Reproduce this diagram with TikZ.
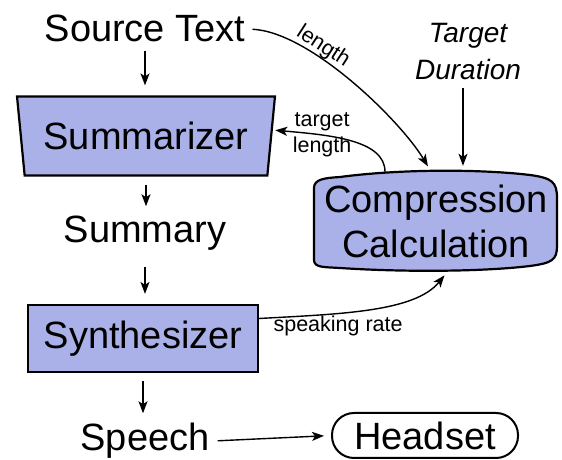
\documentclass[tikz,border=0pt]{standalone}
\usepackage{fontspec}
\setmainfont{Liberation Sans}
\usetikzlibrary{shapes.geometric, arrows.meta}
\definecolor{boxblue}{RGB}{170,176,232}

\begin{document}
\begin{tikzpicture}[x=1pt, y=1pt, >={Stealth[length=12pt, width=9pt, inset=3pt]},
    word/.style={inner sep=0pt, anchor=base, font=\fontsize{38}{45}\selectfont},
    small/.style={inner sep=1pt, font=\fontsize{21.5}{26}\selectfont},
    block/.style={draw, line width=2.2pt, fill=boxblue, inner sep=0pt, font=\fontsize{38}{45}\selectfont},
    flow/.style={->, line width=1.4pt, shorten <=8pt, shorten >=10pt},
    feed/.style={->, line width=1.4pt}]
    \useasboundingbox (0,0) rectangle (562,460);

    % Left column: text, summary, speech
    \node[word] (src) at (145,418) {Source Text};
    \node[block, trapezium, shape border rotate=180, trapezium angle=77,
        trapezium stretches=true, minimum width=258, minimum height=79] (summ) at (146,324) {Summarizer};
    \node[word] (sumy) at (145,217) {Summary};
    \node[block, minimum width=230, minimum height=67] (synth) at (143,121.5) {Synthesizer};
    \node[word] (speech) at (145,9) {Speech};
    \node[draw, line width=2pt, rounded corners=22pt, minimum width=186, minimum height=45,
        inner sep=0pt, font=\fontsize{38}{45}\selectfont] (head) at (425,24.5) {Headset};

    % Compression calculation (bulged box)
    \draw[line width=2.2pt, fill=boxblue] (314,200) -- (314,272)
        .. controls (314,281) and (325,282) .. (340,283)
        .. controls (400,291) and (480,291) .. (530,285)
        .. controls (552,282) and (557,278) .. (557,262) -- (557,214)
        .. controls (557,200) and (552,197) .. (530,194)
        .. controls (480,188) and (400,188) .. (340,192)
        .. controls (325,193) and (314,192) .. cycle;
    \node[inner sep=0pt, minimum width=242, minimum height=102, align=center,
        font=\fontsize{38}{45}\selectfont] (comp) at (436,239) {Compression\\Calculation};
    \node[inner sep=0pt, align=center, font=\fontsize{28}{37}\itshape] (tgt) at (468,408) {Target\\Duration};

    % Main chain
    \draw[flow] (src.south) -- (src.south |- summ.north);
    \draw[flow] (summ.south) -- (summ.south |- sumy.north);
    \draw[flow] ([yshift=-8pt]sumy.south) -- (sumy.south |- synth.north);
    \draw[flow] (synth.south) -- (synth.south |- speech.north);
    \draw[flow, shorten >=7pt] (speech.east) -- (head.west);

    % Inputs and outputs of the calculation
    \draw[feed, shorten <=8pt, shorten >=4pt] ([xshift=-5pt]tgt.south) -- ([xshift=27pt]comp.north);
    \draw[feed, shorten <=7pt, shorten >=4pt] (src.east) .. controls (310,428) and (400,340) .. ([xshift=-6pt]comp.north)
        node[small, sloped, above, pos=0.34] {length};
    \draw[feed, shorten >=3pt] ([xshift=-51pt, yshift=-2pt]comp.north) .. controls (385,320) and (330,325) .. ([yshift=6pt]summ.east)
        node[small, pos=0.7, align=center, inner sep=0pt] {target\\length};
    \draw[feed, shorten >=4pt] ([yshift=20pt]synth.east) .. controls (340,146) and (415,148) .. ([xshift=11pt]comp.south)
        node[small, pos=0.34, below=1pt] {speaking rate};
\end{tikzpicture}
\end{document}
